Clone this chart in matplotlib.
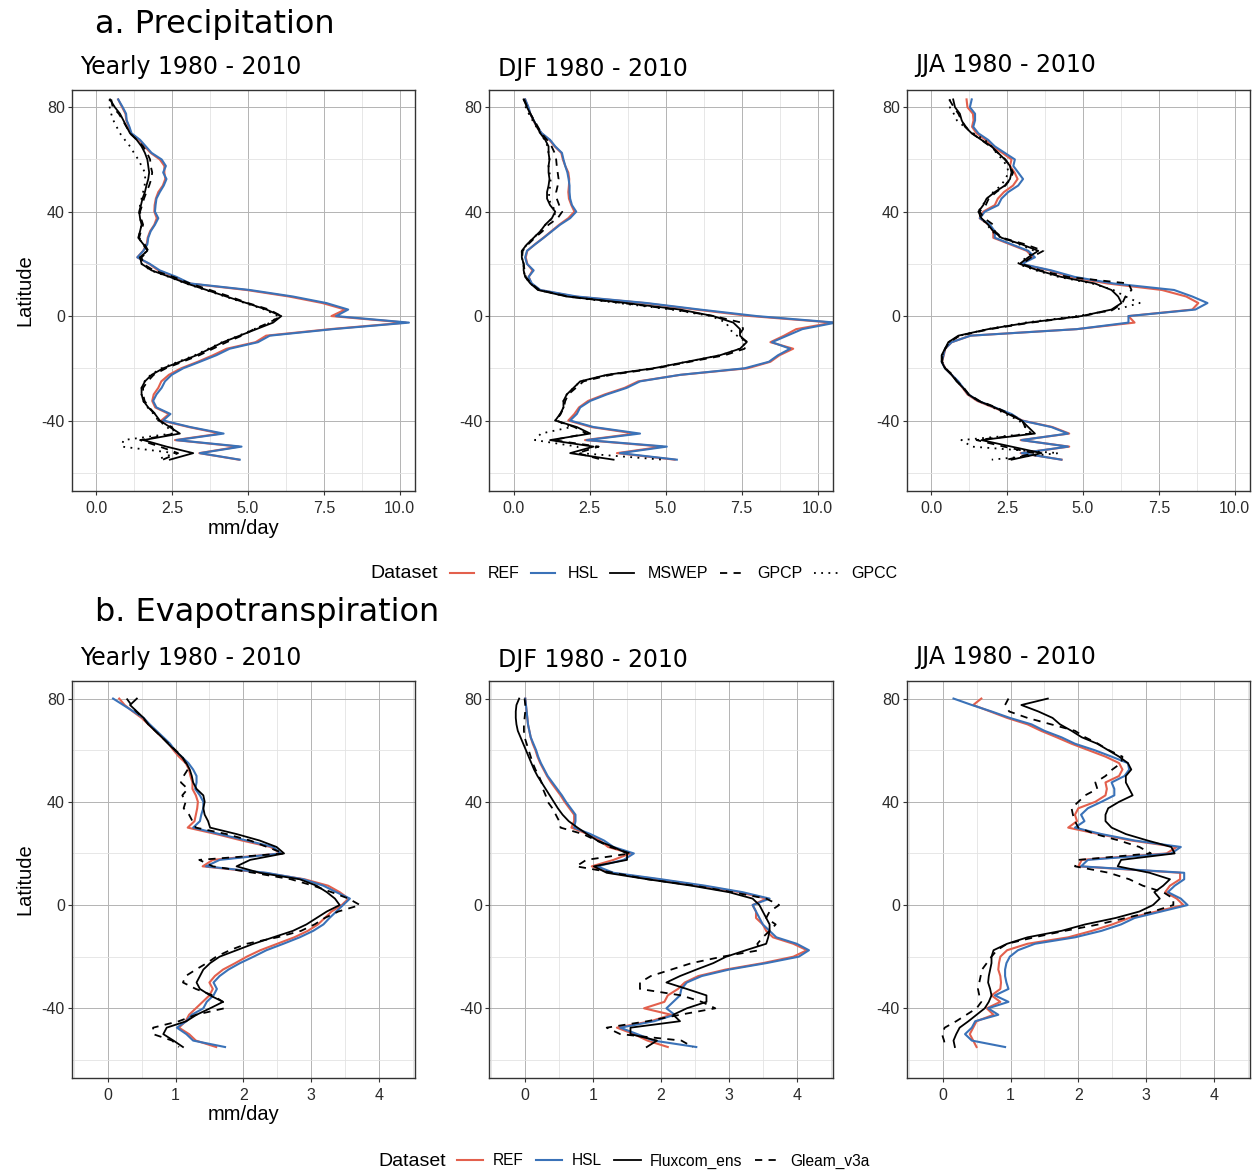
import matplotlib
matplotlib.use("Agg")
import matplotlib.pyplot as plt
from matplotlib.lines import Line2D

# ---------------- data ----------------
LAT_P = [83, 80, 77.5, 75, 72.5, 70, 67.5, 65,
         62.5, 60, 57.5, 55, 52.5, 50, 47.5, 45,
         42.5, 40, 37.5, 35, 32.5, 30, 27.5, 25,
         22.5, 20, 17.5, 15, 12.5, 10, 7.5, 5,
         2.5, 0, -2.5, -5, -7.5, -10, -12.5, -15,
         -17.5, -20, -22.5, -25, -27.5, -30, -32.5, -35,
         -37.5, -40, -42.5, -45, -47.5, -50, -52.5, -55]

LAT_E = [80, 77.5, 75, 72.5, 70, 67.5, 65,
         62.5, 60, 57.5, 55, 52.5, 50, 47.5, 45,
         42.5, 40, 37.5, 35, 32.5, 30, 27.5, 25,
         22.5, 20, 17.5, 15, 12.5, 10, 7.5, 5,
         2.5, 0, -2.5, -5, -7.5, -10, -12.5, -15,
         -17.5, -20, -22.5, -25, -27.5, -30, -32.5, -35,
         -37.5, -40, -42.5, -45, -47.5, -50, -52.5, -55]

# Precipitation, yearly
P_YEAR_REF = [0.73, 0.86, 0.97, 1.00, 1.08, 1.15, 1.42, 1.60,
              1.80, 2.10, 2.25, 2.25, 2.28, 2.20, 2.05, 1.97,
              1.93, 1.92, 2.00, 1.92, 1.78, 1.70, 1.67, 1.55,
              1.36, 1.75, 2.05, 2.60, 3.05, 4.95, 6.35, 7.45,
              8.20, 7.75, 10.2, 7.70, 5.60, 5.25, 4.30, 3.85,
              3.35, 2.80, 2.40, 2.15, 2.05, 1.90, 1.85, 1.95,
              2.40, 2.15, 3.05, 4.10, 2.60, 4.70, 3.40, 4.70]
P_YEAR_HSL = [0.73, 0.88, 0.99, 1.01, 1.10, 1.17, 1.45, 1.64,
              1.83, 2.16, 2.30, 2.21, 2.32, 2.23, 2.10, 1.99,
              1.96, 1.94, 2.05, 1.94, 1.80, 1.72, 1.69, 1.56,
              1.36, 1.77, 2.10, 2.65, 3.10, 5.06, 6.48, 7.58,
              8.30, 7.90, 10.3, 7.80, 5.72, 5.33, 4.40, 3.96,
              3.42, 2.87, 2.49, 2.27, 2.16, 1.99, 1.88, 1.99,
              2.45, 2.21, 3.10, 4.20, 2.65, 4.79, 3.42, 4.73]
P_YEAR_MSWEP = [0.46, 0.62, 0.79, 0.90, 1.01, 1.12, 1.34, 1.50,
                1.61, 1.69, 1.72, 1.75, 1.72, 1.66, 1.61, 1.53,
                1.48, 1.42, 1.45, 1.50, 1.45, 1.39, 1.56, 1.69,
                1.45, 1.50, 1.83, 2.43, 2.98, 3.64, 4.29, 4.95,
                5.61, 6.10, 5.83, 5.28, 4.73, 4.18, 3.75, 3.31,
                2.76, 2.21, 1.83, 1.61, 1.50, 1.50, 1.56, 1.72,
                1.94, 2.10, 2.43, 2.76, 1.56, 2.32, 3.20, 2.43]
P_YEAR_GPCP = [0.50, 0.55, 0.75, 0.88, 1.00, 1.12, 1.35, 1.55,
               1.68, 1.78, 1.80, 1.85, 1.82, 1.75, 1.66, 1.58,
               1.52, 1.45, 1.48, 1.55, 1.48, 1.42, 1.60, 1.72,
               1.50, 1.55, 1.90, 2.55, 3.10, 3.75, 4.40, 5.00,
               5.70, 6.10, 5.70, 5.20, 4.80, 4.30, 3.85, 3.40,
               2.85, 2.30, 1.90, 1.70, 1.55, 1.55, 1.60, 1.75,
               1.95, 2.05, 2.50, 2.60, 1.45, 2.10, 2.70, 2.20]
P_YEAR_GPCC = [0.45, 0.45, 0.50, 0.57, 0.68, 0.79, 0.95, 1.12,
               1.25, 1.39, 1.50, 1.61, 1.62, 1.60, 1.55, 1.50,
               1.45, 1.42, 1.45, 1.50, 1.45, 1.40, 1.55, 1.68,
               1.45, 1.50, 1.80, 2.40, 2.95, 3.60, 4.25, 4.90,
               5.55, 6.00, 5.75, 5.20, 4.70, 4.15, 3.70, 3.25,
               2.70, 2.15, 1.80, 1.60, 1.50, 1.50, 1.55, 1.70,
               1.90, 2.05, 2.35, 2.50, 0.90, 0.85, 2.60, 2.00]

# Precipitation, DJF
P_DJF_REF = [0.38, 0.48, 0.55, 0.65, 0.76, 0.92, 1.18, 1.35,
             1.57, 1.62, 1.70, 1.80, 1.83, 1.82, 1.80, 1.82,
             1.90, 2.00, 1.80, 1.50, 1.24, 0.98, 0.70, 0.45,
             0.40, 0.45, 0.62, 0.50, 0.58, 0.85, 2.00, 4.30,
             6.00, 7.80, 10.5, 9.30, 8.90, 8.45, 9.20, 8.75,
             8.45, 7.70, 5.50, 4.10, 3.65, 3.00, 2.45, 2.15,
             2.00, 1.80, 2.55, 4.00, 2.35, 4.90, 3.40, 5.30]
P_DJF_HSL = [0.38, 0.49, 0.55, 0.66, 0.77, 0.93, 1.20, 1.37,
             1.59, 1.64, 1.70, 1.77, 1.81, 1.84, 1.84, 1.86,
             1.92, 2.06, 1.86, 1.53, 1.26, 0.99, 0.71, 0.44,
             0.38, 0.44, 0.66, 0.49, 0.60, 0.88, 2.08, 4.38,
             6.13, 8.00, 10.6, 9.50, 9.00, 8.50, 9.10, 8.70,
             8.40, 7.60, 5.48, 4.16, 3.72, 3.07, 2.52, 2.19,
             2.08, 1.86, 2.63, 4.16, 2.41, 5.04, 3.50, 5.37]
P_DJF_MSWEP = [0.33, 0.44, 0.55, 0.66, 0.77, 0.88, 1.04, 1.15,
               1.15, 1.18, 1.15, 1.15, 1.18, 1.15, 1.10, 1.10,
               1.20, 1.37, 1.26, 1.04, 0.88, 0.66, 0.44, 0.27,
               0.27, 0.33, 0.33, 0.38, 0.55, 0.80, 1.75, 3.70,
               5.48, 6.57, 7.23, 7.45, 7.45, 7.67, 7.45, 6.79,
               5.70, 4.60, 3.07, 2.19, 1.97, 1.75, 1.64, 1.64,
               1.53, 1.37, 2.08, 2.52, 1.20, 2.63, 1.86, 3.29]
P_DJF_GPCP = [0.35, 0.45, 0.55, 0.68, 0.80, 0.92, 1.10, 1.25,
              1.35, 1.40, 1.42, 1.45, 1.48, 1.45, 1.40, 1.42,
              1.50, 1.60, 1.45, 1.15, 0.95, 0.70, 0.48, 0.30,
              0.28, 0.33, 0.36, 0.40, 0.58, 0.85, 1.80, 3.60,
              5.30, 6.60, 7.50, 7.55, 7.40, 7.70, 7.60, 6.95,
              5.80, 4.70, 3.20, 2.30, 2.05, 1.80, 1.70, 1.65,
              1.55, 1.40, 2.00, 2.40, 1.30, 2.80, 2.10, 2.90]
P_DJF_GPCC = [0.33, 0.40, 0.50, 0.62, 0.75, 0.88, 1.02, 1.12,
              1.15, 1.18, 1.15, 1.18, 1.22, 1.20, 1.18, 1.15,
              1.25, 1.40, 1.28, 1.05, 0.88, 0.66, 0.44, 0.27,
              0.27, 0.33, 0.33, 0.38, 0.55, 0.82, 1.75, 3.45,
              5.20, 6.50, 7.00, 7.10, 7.35, 7.65, 7.45, 6.80,
              5.70, 4.60, 3.10, 2.20, 1.97, 1.75, 1.64, 1.64,
              1.53, 1.37, 1.90, 0.90, 0.70, 2.10, 2.20, 4.90]

# Precipitation, JJA
P_JJA_REF = [1.17, 1.20, 1.38, 1.40, 1.35, 1.50, 1.80, 2.02,
             2.35, 2.65, 2.60, 2.75, 2.85, 2.70, 2.40, 2.20,
             2.10, 1.72, 1.60, 1.90, 2.05, 2.05, 2.60, 3.15,
             3.35, 2.95, 3.90, 4.60, 5.80, 7.60, 8.40, 8.80,
             8.60, 6.50, 6.70, 4.80, 1.30, 0.68, 0.47, 0.42,
             0.36, 0.47, 0.68, 0.88, 1.04, 1.20, 1.52, 2.05,
             2.60, 3.00, 4.00, 4.55, 2.95, 4.55, 2.95, 4.30]
P_JJA_HSL = [1.34, 1.28, 1.45, 1.45, 1.39, 1.56, 1.88, 2.10,
             2.43, 2.76, 2.71, 2.87, 3.03, 2.87, 2.54, 2.32,
             2.21, 1.77, 1.61, 1.94, 2.10, 2.10, 2.65, 3.20,
             3.42, 2.98, 3.96, 4.73, 6.00, 8.00, 8.60, 9.10,
             8.70, 6.50, 6.50, 4.80, 1.30, 0.68, 0.46, 0.41,
             0.35, 0.46, 0.68, 0.90, 1.06, 1.23, 1.56, 2.10,
             2.65, 2.98, 3.96, 4.51, 2.98, 4.51, 2.98, 4.29]
P_JJA_MSWEP = [0.73, 0.79, 0.95, 1.01, 1.12, 1.34, 1.66, 1.99,
               2.21, 2.43, 2.60, 2.65, 2.60, 2.43, 2.10, 1.83,
               1.72, 1.56, 1.66, 1.88, 2.05, 2.32, 2.98, 3.53,
               3.20, 2.92, 3.53, 4.29, 5.39, 5.94, 6.16, 6.27,
               5.94, 4.95, 3.20, 1.88, 0.90, 0.57, 0.46, 0.35,
               0.35, 0.46, 0.68, 0.84, 1.06, 1.23, 1.56, 2.10,
               2.54, 2.98, 3.20, 3.42, 1.66, 2.65, 3.64, 2.65]
P_JJA_GPCP = [0.60, 0.75, 0.90, 1.00, 1.15, 1.35, 1.65, 1.95,
              2.20, 2.45, 2.60, 2.70, 2.62, 2.45, 2.15, 1.90,
              1.80, 1.60, 1.75, 2.05, 2.10, 2.35, 3.10, 3.70,
              3.30, 3.00, 3.60, 4.50, 6.50, 6.60, 6.40, 6.30,
              6.00, 5.00, 3.30, 1.95, 0.95, 0.60, 0.47, 0.38,
              0.37, 0.48, 0.70, 0.86, 1.08, 1.25, 1.60, 2.15,
              2.60, 3.00, 3.10, 3.30, 1.50, 2.40, 3.40, 2.50]
P_JJA_GPCC = [0.62, 0.62, 0.75, 0.85, 1.10, 1.40, 1.77, 1.99,
              2.15, 2.35, 2.50, 2.55, 2.45, 2.30, 2.05, 1.85,
              1.70, 1.55, 1.65, 1.85, 2.00, 2.30, 2.90, 3.40,
              3.15, 2.85, 3.45, 4.20, 5.30, 6.00, 6.40, 6.87,
              6.10, 4.80, 3.10, 1.85, 0.95, 0.58, 0.47, 0.37,
              0.36, 0.47, 0.70, 0.86, 1.06, 1.23, 1.56, 2.05,
              2.45, 2.90, 3.10, 3.30, 1.00, 1.34, 4.20, 2.00]

# Evapotranspiration, yearly
E_YEAR_REF = [0.17, 0.25, 0.37, 0.50, 0.60, 0.70, 0.80,
              0.90, 0.97, 1.05, 1.15, 1.20, 1.22, 1.25, 1.25,
              1.30, 1.33, 1.32, 1.30, 1.28, 1.18, 1.60, 1.98,
              2.40, 2.55, 1.55, 1.40, 2.30, 2.90, 3.25, 3.42,
              3.55, 3.45, 3.30, 3.20, 3.10, 2.95, 2.75, 2.50,
              2.25, 2.05, 1.88, 1.70, 1.58, 1.50, 1.55, 1.50,
              1.40, 1.30, 1.20, 1.15, 1.05, 1.20, 1.30, 1.60]
E_YEAR_HSL = [0.08, 0.23, 0.38, 0.53, 0.62, 0.72, 0.82,
              0.92, 0.99, 1.09, 1.19, 1.26, 1.31, 1.31, 1.29,
              1.36, 1.41, 1.41, 1.38, 1.36, 1.26, 1.65, 2.05,
              2.44, 2.55, 1.65, 1.45, 2.34, 2.88, 3.18, 3.37,
              3.57, 3.47, 3.37, 3.27, 3.18, 3.03, 2.83, 2.59,
              2.34, 2.15, 1.95, 1.78, 1.65, 1.56, 1.61, 1.56,
              1.46, 1.41, 1.24, 1.16, 1.02, 1.16, 1.26, 1.73]
E_YEAR_FLUX = [0.43, 0.33, 0.43, 0.53, 0.60, 0.70, 0.80,
               0.89, 0.99, 1.09, 1.16, 1.21, 1.24, 1.26, 1.31,
               1.41, 1.43, 1.41, 1.43, 1.48, 1.51, 1.90, 2.24,
               2.49, 2.60, 2.10, 1.90, 2.24, 2.83, 3.08, 3.23,
               3.35, 3.42, 3.23, 3.08, 2.93, 2.73, 2.44, 2.15,
               1.90, 1.65, 1.51, 1.41, 1.36, 1.31, 1.36, 1.51,
               1.70, 1.51, 1.31, 1.16, 0.87, 0.82, 0.97, 1.11]
E_YEAR_GLEAM = [0.28, 0.35, 0.42, 0.52, 0.60, 0.70, 0.80,
                0.90, 1.00, 1.10, 1.15, 1.18, 1.12, 1.08, 1.18,
                1.10, 1.15, 1.12, 1.20, 1.25, 1.30, 1.75, 2.10,
                2.35, 2.60, 1.35, 1.55, 2.15, 2.70, 3.03, 3.30,
                3.55, 3.72, 3.40, 3.20, 3.05, 2.85, 2.50, 2.05,
                1.80, 1.60, 1.46, 1.30, 1.15, 1.11, 1.30, 1.55,
                1.70, 1.72, 1.30, 1.05, 0.67, 0.67, 0.95, 1.05]

# Evapotranspiration, DJF
E_DJF_REF = [0.00, 0.01, 0.02, 0.03, 0.04, 0.06, 0.08,
             0.11, 0.15, 0.18, 0.22, 0.27, 0.32, 0.38, 0.45,
             0.52, 0.58, 0.65, 0.72, 0.72, 0.68, 0.92, 1.10,
             1.22, 1.55, 1.30, 0.98, 1.25, 1.95, 2.60, 3.15,
             3.55, 3.35, 3.40, 3.40, 3.50, 3.55, 3.65, 3.95,
             4.15, 3.95, 3.50, 2.95, 2.55, 2.35, 2.25, 2.10,
             2.05, 1.75, 2.15, 1.85, 1.35, 1.60, 1.80, 2.10]
E_DJF_HSL = [0.00, 0.01, 0.02, 0.03, 0.04, 0.06, 0.08,
             0.12, 0.16, 0.19, 0.23, 0.28, 0.33, 0.40, 0.47,
             0.54, 0.60, 0.67, 0.74, 0.74, 0.72, 0.96, 1.16,
             1.30, 1.60, 1.45, 1.06, 1.30, 2.00, 2.65, 3.20,
             3.60, 3.35, 3.40, 3.45, 3.50, 3.60, 3.70, 4.00,
             4.18, 4.03, 3.55, 3.00, 2.60, 2.38, 2.30, 2.28,
             2.18, 2.08, 2.20, 1.90, 1.40, 1.65, 1.89, 2.52]
E_DJF_FLUX = [-0.09, -0.13, -0.14, -0.14, -0.13, -0.11, -0.07,
              -0.03, 0.01, 0.05, 0.09, 0.13, 0.18, 0.24, 0.30,
              0.36, 0.42, 0.48, 0.55, 0.64, 0.77, 0.91, 1.06,
              1.30, 1.50, 1.50, 1.01, 1.20, 1.80, 2.45, 3.00,
              3.35, 3.45, 3.50, 3.55, 3.60, 3.60, 3.58, 3.55,
              3.25, 2.96, 2.77, 2.52, 2.28, 2.08, 2.38, 2.67,
              2.67, 2.38, 2.18, 2.28, 1.55, 1.55, 1.94, 1.79]
E_DJF_GLEAM = [-0.01, 0.00, 0.00, -0.01, -0.02, -0.02, -0.01,
               0.02, 0.05, 0.08, 0.11, 0.15, 0.20, 0.24, 0.26,
               0.30, 0.33, 0.40, 0.45, 0.50, 0.52, 0.85, 1.05,
               1.25, 1.55, 0.90, 0.75, 1.30, 1.80, 2.50, 3.05,
               3.55, 3.74, 3.60, 3.55, 3.69, 3.60, 3.50, 3.42,
               3.45, 2.90, 2.45, 2.15, 1.85, 1.69, 1.69, 2.30,
               2.60, 2.80, 2.28, 1.80, 1.20, 1.40, 2.30, 2.47]

# Evapotranspiration, JJA
E_JJA_REF = [0.57, 0.45, 0.70, 0.95, 1.25, 1.45, 1.68,
             1.90, 2.15, 2.40, 2.60, 2.65, 2.60, 2.40, 2.42,
             2.40, 2.25, 2.00, 1.95, 1.98, 1.85, 2.30, 2.78,
             3.45, 3.30, 2.05, 2.00, 3.50, 3.50, 3.35, 3.28,
             3.45, 3.55, 3.15, 2.75, 2.50, 2.20, 1.85, 1.25,
             0.95, 0.85, 0.83, 0.82, 0.85, 0.86, 0.85, 0.72,
             0.85, 0.65, 0.75, 0.50, 0.45, 0.40, 0.45, 0.50]
E_JJA_HSL = [0.16, 0.43, 0.72, 0.99, 1.31, 1.50, 1.75,
             1.95, 2.24, 2.49, 2.73, 2.75, 2.68, 2.49, 2.53,
             2.53, 2.34, 2.14, 2.04, 2.09, 1.95, 2.34, 2.83,
             3.51, 3.37, 2.14, 2.04, 3.56, 3.56, 3.42, 3.32,
             3.51, 3.61, 3.22, 2.83, 2.63, 2.34, 1.95, 1.36,
             1.11, 0.99, 0.94, 0.92, 0.92, 0.94, 0.97, 0.77,
             0.97, 0.67, 0.82, 0.48, 0.43, 0.33, 0.43, 0.92]
E_JJA_FLUX = [1.55, 1.16, 1.41, 1.62, 1.73, 1.90, 2.05,
              2.28, 2.44, 2.60, 2.73, 2.78, 2.70, 2.70, 2.75,
              2.80, 2.60, 2.44, 2.40, 2.40, 2.49, 2.70, 3.02,
              3.37, 3.42, 2.63, 2.58, 3.05, 3.35, 3.25, 3.12,
              3.20, 3.10, 2.90, 2.55, 2.10, 1.75, 1.25, 0.95,
              0.75, 0.72, 0.72, 0.70, 0.68, 0.67, 0.70, 0.72,
              0.68, 0.62, 0.50, 0.38, 0.25, 0.20, 0.16, 0.18]
E_JJA_GLEAM = [0.97, 0.92, 0.98, 1.25, 1.60, 1.95, 2.10,
               2.29, 2.45, 2.65, 2.63, 2.50, 2.40, 2.25, 2.28,
               2.10, 2.00, 1.90, 1.92, 1.95, 2.00, 2.25, 2.60,
               2.90, 3.07, 2.00, 1.95, 2.45, 2.75, 2.95, 3.25,
               3.40, 3.40, 3.10, 2.70, 2.30, 1.80, 1.35, 0.95,
               0.80, 0.72, 0.65, 0.58, 0.56, 0.54, 0.52, 0.54,
               0.57, 0.50, 0.35, 0.20, 0.03, -0.01, 0.02, 0.04]

P_NAMES = ["REF", "HSL", "MSWEP", "GPCP", "GPCC"]
E_NAMES = ["REF", "HSL", "Fluxcom_ens", "Gleam_v3a"]
SUBTITLES = ["Yearly 1980 - 2010", "DJF 1980 - 2010", "JJA 1980 - 2010"]
P_TICKS = [0.0, 2.5, 5.0, 7.5, 10.0]
P_TICKLABELS = ["0.0", "2.5", "5.0", "7.5", "10.0"]
E_TICKS = [0, 1, 2, 3, 4]
E_TICKLABELS = ["0", "1", "2", "3", "4"]
Y_TICKS = [-40, 0, 40, 80]

P_PANELS = [
    [P_YEAR_REF, P_YEAR_HSL, P_YEAR_MSWEP, P_YEAR_GPCP, P_YEAR_GPCC],
    [P_DJF_REF, P_DJF_HSL, P_DJF_MSWEP, P_DJF_GPCP, P_DJF_GPCC],
    [P_JJA_REF, P_JJA_HSL, P_JJA_MSWEP, P_JJA_GPCP, P_JJA_GPCC],
]
E_PANELS = [
    [E_YEAR_REF, E_YEAR_HSL, E_YEAR_FLUX, E_YEAR_GLEAM],
    [E_DJF_REF, E_DJF_HSL, E_DJF_FLUX, E_DJF_GLEAM],
    [E_JJA_REF, E_JJA_HSL, E_JJA_FLUX, E_JJA_GLEAM],
]

# ---------------- style ----------------
RED = "#E3604D"
BLUE = "#3A72B8"
STYLES = [
    dict(color=RED, lw=1.5, ls="-"),
    dict(color=BLUE, lw=1.5, ls="-"),
    dict(color="black", lw=1.3, ls="-"),
    dict(color="black", lw=1.3, ls=(0, (4, 3.5))),
    dict(color="black", lw=1.3, ls=(0, (1, 3))),
]
TITLE_FONT = "DejaVu Sans"
LABEL_FONT = "Liberation Sans"
TICK_SIZE = 11.5

W, H = 1258, 1175
fig = plt.figure(figsize=(W / 100, H / 100), dpi=100)


def fx(px):
    return px / W


def fy(py):
    return 1 - py / H


COLS = [(71.7, 415.0), (489.3, 832.7), (906.7, 1250.0)]
ROWS = {"P": (90.0, 491.0), "E": (681.0, 1078.0)}


def make_axes(col, row):
    l, r = COLS[col]
    t, b = ROWS[row]
    ax = fig.add_axes([fx(l), fy(b), (r - l) / W, (b - t) / H])
    for s in ax.spines.values():
        s.set_color("#333333")
        s.set_linewidth(1.0)
    ax.set_yticks(Y_TICKS)
    ax.set_yticks([-60, -20, 20, 60], minor=True)
    ax.grid(which="major", color="#b3b3b3", lw=0.7)
    ax.grid(which="minor", color="#e3e3e3", lw=0.6)
    ax.set_axisbelow(True)
    ax.tick_params(which="major", length=3, width=0.8, color="#333333",
                   labelcolor="#2b2b2b", pad=2)
    ax.tick_params(which="minor", length=0)
    return ax


def label_ticks(ax, xticks, xlabels):
    ax.set_xticks(xticks)
    ax.set_xticklabels(xlabels, family=LABEL_FONT, fontsize=TICK_SIZE)
    ax.set_yticklabels([str(v) for v in Y_TICKS], family=LABEL_FONT,
                       fontsize=TICK_SIZE)
    ax.tick_params(axis="x", pad=4)


for c in range(3):
    # precipitation
    ax = make_axes(c, "P")
    for vals, st in zip(P_PANELS[c], STYLES):
        ax.plot(vals, LAT_P, solid_joinstyle="round", **st)
    ax.set_xlim(-0.8, 10.5)
    ax.set_ylim(-67, 86.6)
    label_ticks(ax, P_TICKS, P_TICKLABELS)
    ax.set_xticks([1.25, 3.75, 6.25, 8.75], minor=True)

    # evapotranspiration
    ax = make_axes(c, "E")
    for vals, st in zip(E_PANELS[c], STYLES[:4]):
        ax.plot(vals, LAT_E, solid_joinstyle="round", **st)
    ax.set_xlim(-0.53, 4.53)
    ax.set_ylim(-67, 86.8)
    label_ticks(ax, E_TICKS, E_TICKLABELS)
    ax.set_xticks([-0.5, 0.5, 1.5, 2.5, 3.5, 4.5], minor=True)

# ---------------- texts ----------------
fig.text(fx(95), fy(24), "a. Precipitation", family=TITLE_FONT, fontsize=23,
         ha="left", va="center")
fig.text(fx(95), fy(613), "b. Evapotranspiration", family=TITLE_FONT, fontsize=23,
         ha="left", va="center")

sub_x = [80, 498, 915]
sub_y_top = [67, 69, 65]
sub_y_bot = [658, 660, 657]
for i in range(3):
    fig.text(fx(sub_x[i]), fy(sub_y_top[i]), SUBTITLES[i], family=TITLE_FONT,
             fontsize=17, ha="left", va="center")
    fig.text(fx(sub_x[i]), fy(sub_y_bot[i]), SUBTITLES[i], family=TITLE_FONT,
             fontsize=17, ha="left", va="center")

for yc in [290.5, 879.5]:
    fig.text(fx(25), fy(yc), "Latitude", family=LABEL_FONT, fontsize=14.5,
             rotation=90, ha="center", va="center")
for yc in [528, 1114]:
    fig.text(fx(243.5), fy(yc), "mm/day", family=LABEL_FONT, fontsize=14.5,
             ha="center", va="center")

# ---------------- legends ----------------
def handles(names):
    return [Line2D([0], [0], **st) for st in STYLES[:len(names)]]


fig.text(fx(370), fy(574), "Dataset", family=LABEL_FONT, fontsize=14,
         ha="left", va="center")
fig.legend(handles(P_NAMES), P_NAMES, loc="center left",
           bbox_to_anchor=(fx(450), fy(574)), ncol=5, frameon=False,
           handlelength=1.5, handletextpad=0.85, columnspacing=0.7,
           borderpad=0, borderaxespad=0,
           prop={"family": LABEL_FONT, "size": 11.5})

fig.text(fx(378), fy(1161), "Dataset", family=LABEL_FONT, fontsize=14,
         ha="left", va="center")
fig.legend(handles(E_NAMES), E_NAMES, loc="center left",
           bbox_to_anchor=(fx(457), fy(1161)), ncol=4, frameon=False,
           handlelength=1.7, handletextpad=0.6, columnspacing=0.8,
           borderpad=0, borderaxespad=0,
           prop={"family": LABEL_FONT, "size": 11.2})

fig.savefig("out.png", dpi=100, facecolor="white")
